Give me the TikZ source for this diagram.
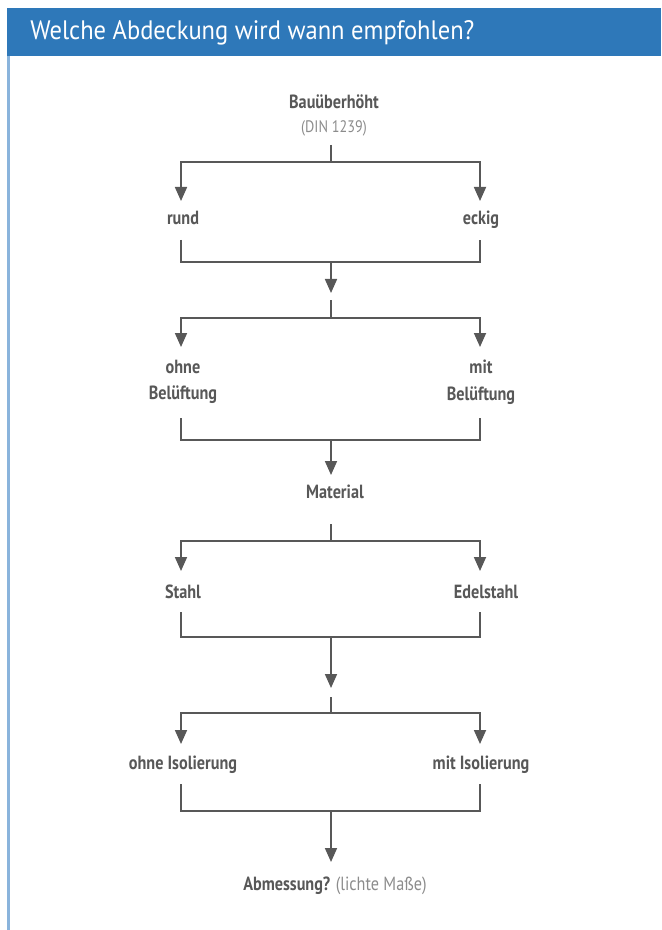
\documentclass[tikz,border=0pt]{standalone}
\usepackage{fontspec}
\setmainfont{PT Sans}[FakeStretch=0.85]
\newfontfamily\titlefont{PT Sans}[FakeStretch=0.92]
\usetikzlibrary{arrows.meta}
\definecolor{hdrblue}{HTML}{2E78B9}
\definecolor{sideblue}{HTML}{8AB4DC}
\definecolor{ink}{HTML}{585858}
\definecolor{soft}{HTML}{8C8C8C}
\tikzset{
  lbl/.style={font=\bfseries\fontsize{14.3}{20}\selectfont, text=ink, inner sep=0pt, align=center},
  bl/.style={lbl, anchor=base},
  sub/.style={font=\fontsize{12.5}{14}\selectfont, text=soft, inner sep=0pt},
  conn/.style={draw=ink, line width=1.3pt},
  arr/.style={conn, -{Triangle[width=9pt,length=10.5pt]}},
}
\begin{document}
\begin{tikzpicture}[x=0.75pt,y=-0.75pt]
\useasboundingbox (0,0) rectangle (661,930);
\fill[white] (0,0) rectangle (661,930);
% header
\fill[hdrblue] (7,8) rectangle (661,56);
\node[anchor=west, text=white, font=\titlefont\fontsize{20}{24}\selectfont, inner sep=0pt] (title) at (30,33) {Welche Abdeckung wird wann empfohlen?};
\draw[sideblue, line width=1.6pt] (8.5,56) -- (8.5,930);
% labels
\node[bl] (top) at (334,109) {Bauüberhöht};
\node[sub] (din) at (334,128) {(DIN 1239)};
\node[bl] (rund) at (183,225) {rund};
\node[bl] (eckig) at (481,225) {eckig};
\node[lbl] (ohneB) at (183,382) {ohne\\Belüftung};
\node[lbl] (mitB) at (481,382) {mit\\Belüftung};
\node[bl] (mat) at (335,498) {Material};
\node[bl] (stahl) at (183,598) {Stahl};
\node[bl] (edel) at (486,598) {Edelstahl};
\node[bl] (ohneI) at (183,769) {ohne Isolierung};
\node[bl] (mitI) at (481,769) {mit Isolierung};
\node[bl] (abm) at (335,890) {Abmessung? \mdseries\color{soft}(lichte Maße)};
% coordinates
\coordinate (s1) at (331,145); \coordinate (j1) at (331,162);
\coordinate (a1l) at (181,201); \coordinate (a1r) at (480,201);
\coordinate (b1l) at (181,240); \coordinate (b1r) at (480,240);
\coordinate (m1) at (331,262); \coordinate (e1) at (331,293);
\coordinate (s2) at (331,300); \coordinate (j2) at (331,318);
\coordinate (a2l) at (181,347); \coordinate (a2r) at (480,347);
\coordinate (b2l) at (181,418); \coordinate (b2r) at (480,418);
\coordinate (m2) at (331,440); \coordinate (e2) at (331,475);
\coordinate (s3) at (331,524); \coordinate (j3) at (331,541);
\coordinate (a3l) at (181,571); \coordinate (a3r) at (480,571);
\coordinate (b3l) at (181,612); \coordinate (b3r) at (480,612);
\coordinate (m3) at (331,637); \coordinate (e3) at (331,688);
\coordinate (s4) at (331,697); \coordinate (j4) at (331,713);
\coordinate (a4l) at (181,744); \coordinate (a4r) at (480,744);
\coordinate (b4l) at (181,784); \coordinate (b4r) at (480,784);
\coordinate (m4) at (331,811); \coordinate (e4) at (331,862);
% level 1
\draw[conn] (s1) -- (j1);
\draw[arr] (j1) -| (a1l);
\draw[arr] (j1) -| (a1r);
\draw[conn] (b1l) |- (m1) -| (b1r);
\draw[arr] (m1) -- (e1);
% level 2
\draw[conn] (s2) -- (j2);
\draw[arr] (j2) -| (a2l);
\draw[arr] (j2) -| (a2r);
\draw[conn] (b2l) |- (m2) -| (b2r);
\draw[arr] (m2) -- (e2);
% level 3
\draw[conn] (s3) -- (j3);
\draw[arr] (j3) -| (a3l);
\draw[arr] (j3) -| (a3r);
\draw[conn] (b3l) |- (m3) -| (b3r);
\draw[arr] (m3) -- (e3);
% level 4
\draw[conn] (s4) -- (j4);
\draw[arr] (j4) -| (a4l);
\draw[arr] (j4) -| (a4r);
\draw[conn] (b4l) |- (m4) -| (b4r);
\draw[arr] (m4) -- (e4);
\end{tikzpicture}
\end{document}
